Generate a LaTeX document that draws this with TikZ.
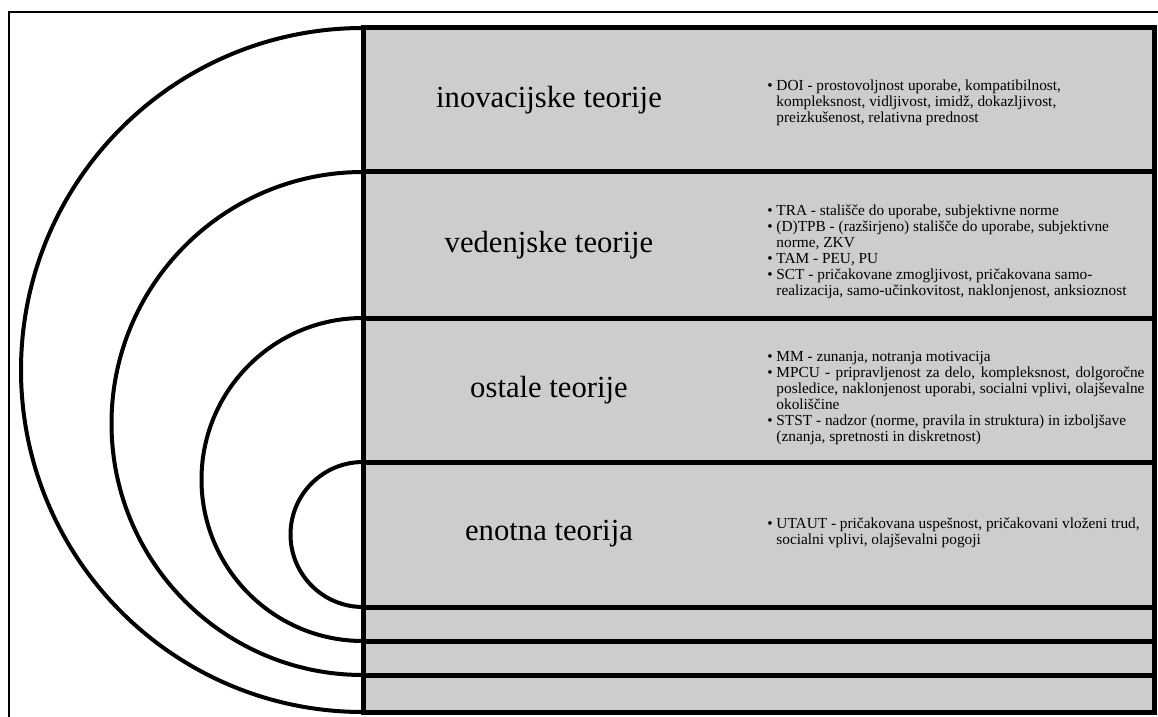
\documentclass[tikz,border=0pt]{standalone}
\usepackage{fontspec}
\setmainfont{Liberation Serif}
\definecolor{bandgray}{RGB}{205,205,205}
\tikzset{
  band/.style={draw=black, fill=bandgray, line width=3.75pt},
  ring/.style={draw=black, line width=3pt},
  theory/.style={font=\fontsize{23}{27}\selectfont, inner sep=0pt},
  models/.style={font=\fontsize{11.5}{12}\selectfont, inner sep=0pt, anchor=base west},
}
\newcommand{\itm}{\textbullet\ }
\newcommand{\nxt}{\phantom{\textbullet\ }}
\newcommand{\lst}[1]{\parbox[t]{320pt}{\raggedright #1}}

\begin{document}
\begin{tikzpicture}[x=0.75pt, y=-0.75pt]
  \useasboundingbox (0,0) rectangle (1158,717);
  \clip (0,0) rectangle (1158,717);
  % outer frame
  \draw[line width=1.1pt] (9,760) -- (9,12) -- (1200,12);
  % nested half circles
  \draw[ring] (363,28)  arc[start angle=270, end angle=90, radius=342];
  \draw[ring] (363,172) arc[start angle=270, end angle=90, radius=251.5];
  \draw[ring] (363,318) arc[start angle=270, end angle=90, radius=161.5];
  \draw[ring] (363,462) arc[start angle=270, end angle=90, radius=72.5];
  % grey bands
  \foreach \top/\bot in {28/172, 172/318, 318/462, 462/607, 607/641, 641/675, 675/712}
    \draw[band] (363,\top) rectangle (1154,\bot);
  % theory groups
  \node[theory] (inov) at (549,100) {inovacijske teorije};
  \node[theory] (veden) at (549,245) {vedenjske teorije};
  \node[theory] (ostale) at (549,390) {ostale teorije};
  \node[theory] (enotna) at (549,534) {enotna teorija};
  % models and their constructs
  \node[models] (inovlist) at (767,91) {\lst{%
    \itm DOI - prostovoljnost uporabe, kompatibilnost,\\
    \nxt kompleksnost, vidljivost, imidž, dokazljivost,\\
    \nxt preizkušenost, relativna prednost}};
  \node[models] (vedenlist) at (767,215) {\lst{%
    \itm TRA - stališče do uporabe, subjektivne norme\\
    \itm (D)TPB - (razširjeno) stališče do uporabe, subjektivne\\
    \nxt norme, ZKV\\
    \itm TAM - PEU, PU\\
    \itm SCT - pričakovane zmogljivost, pričakovana samo-\\
    \nxt realizacija, samo-učinkovitost, naklonjenost, anksioznost}};
  \node[models] (ostalelist) at (767,361) {\lst{%
    \itm MM - zunanja, notranja motivacija\\
    \itm \makebox[276pt][s]{MPCU - pripravljenost za delo, kompleksnost, dolgoročne}\\
    \nxt \makebox[276pt][s]{posledice, naklonjenost uporabi, socialni vplivi, olajševalne}\\
    \nxt okoliščine\\
    \itm STST - nadzor (norme, pravila in struktura) in izboljšave\\
    \nxt (znanja, spretnosti in diskretnost)}};
  \node[models] (enotnalist) at (767,528) {\lst{%
    \itm UTAUT - pričakovana uspešnost, pričakovani vloženi trud,\\
    \nxt socialni vplivi, olajševalni pogoji}};
\end{tikzpicture}
\end{document}
